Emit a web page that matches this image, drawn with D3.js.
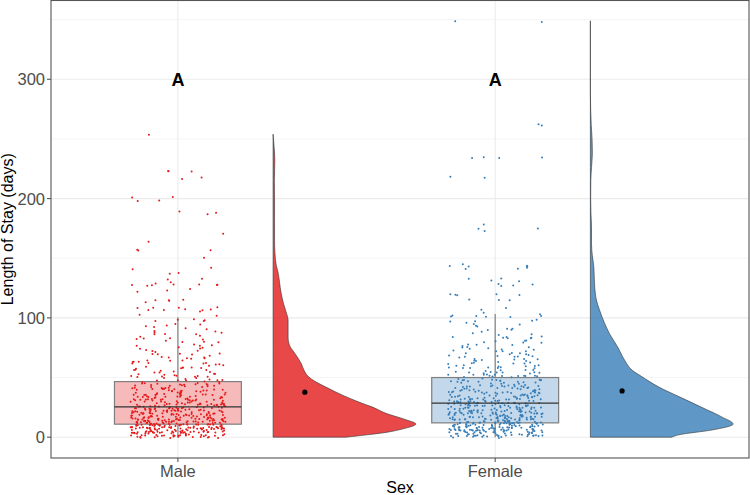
<!DOCTYPE html>
<html><head><meta charset="utf-8">
<script src="https://cdn.jsdelivr.net/npm/d3@7"></script>
<style>body{margin:0;background:#fff}svg{display:block;font-family:"Liberation Sans",Arial,sans-serif}</style>
</head><body><svg id="c" width="750" height="495"></svg>
<script>
// ---------- data ----------
const categories = ["Male", "Female"];
const colors = ["#E41A1C", "#377EB8"];
const yTicks = [0, 100, 200, 300];
const letters = ["A", "A"];
const means = [37.7, 38.8];
// box stats: [lowerWhisker, q1, median, q3, upperWhisker]
const maleBox = [0, 10.9, 25.4, 46.6, 100.6];
const femaleBox = [0, 12, 28.5, 50, 103.3];
// counts of stays per 5-day bin, 0-100 days
const binStarts = [0,5,10,15,20,25,30,35,40,45,50,55,60,65,70,75,80,85,90,95];
const maleBinCounts = [60,75,65,58,50,42,36,30,24,17,14,13,12,10,9,8,7,7,6,6];
const femaleBinCounts = [55,62,58,55,49,44,39,33,27,23,19,16,15,13,11,10,9,7,6,5];
// individual long stays (>100 days)
const maleLong = [254,224,223,224,217,217,202,199,202,199,188,188,188,170,165,157,157,157,151,142,142,138,138,133,133,128,128,128,127,127,129,128,128,129,122,123,123,114,116,116,114,114,109,109,109,108,108,107,107,106,106,106,103,103];
const femaleLong = [349,349,262,262,234,234,234,234,218,218,174,177,174,174,143,142,144,144,142,142,143,142,131,133,133,130,126,126,128,128,119,120,119,120,121,116,115,115,108,108,101,101,102,102,101,102,102,104];
// half-violin density profiles (value, relative width)
const maleViolinV = [0,2,4,7,11,15,20,25,29,35,42,47,51,56,62,70,76,80,84,91,98,105,112,121,130,138,145,155,165,180,200,215,232,245,254];
const maleViolinW = [0.51,0.66,0.79,0.91,1,0.92,0.79,0.70,0.61,0.49,0.37,0.29,0.245,0.217,0.196,0.154,0.119,0.108,0.105,0.105,0.105,0.091,0.073,0.056,0.045,0.035,0.021,0.013,0.010,0.010,0.010,0.009,0.012,0.006,0];
const femaleViolinV = [0,2,6,11,17,25,34,42,51,56,65,76,87,96,107,115,125,135,143,152,162,176,188,200,215,226,238,250,262,275,290,349];
const femaleViolinW = [0.57,0.62,0.85,1,0.92,0.78,0.62,0.48,0.357,0.294,0.238,0.189,0.133,0.098,0.063,0.042,0.031,0.027,0.024,0.014,0.008,0.008,0.004,0.002,0.003,0.008,0.014,0.012,0.006,0.002,0,0];

// ---------- layout ----------
const svg = d3.select("#c");
const P = {l: 51, r: 749, t: 0.5, b: 458};
const x = d3.scaleLinear().domain([0.6, 2.8]).range([P.l, P.r]);
const y = d3.scaleLinear().domain([-17.45, 366.45]).range([P.b, 0]);
const wScale = d3.scaleLinear().domain([0, 1]).range([0, 0.45]);

const boxes = [maleBox, femaleBox];
const binCounts = [maleBinCounts, femaleBinCounts];
const longs = [maleLong, femaleLong];
const violins = [[maleViolinV, maleViolinW], [femaleViolinV, femaleViolinW]];

// grid
const g = svg.append("g");
const minor = [50, 150, 250, 350];
g.selectAll(".mn").data(minor).join("line").attr("x1", P.l).attr("x2", P.r)
  .attr("y1", d => y(d)).attr("y2", d => y(d)).attr("stroke", "#F2F2F2").attr("stroke-width", 0.8);
g.selectAll(".mj").data(yTicks).join("line").attr("x1", P.l).attr("x2", P.r)
  .attr("y1", d => y(d)).attr("y2", d => y(d)).attr("stroke", "#EBEBEB").attr("stroke-width", 1.1);
g.selectAll(".vx").data([1, 2]).join("line").attr("y1", 0).attr("y2", P.b)
  .attr("x1", d => x(d)).attr("x2", d => x(d)).attr("stroke", "#EBEBEB").attr("stroke-width", 1.1);

// deterministic jitter offset in [-1, 1] (position only)
function jit(k, s) {
  const t = Math.sin(k * 78.233 + s * 12.9898) * 43758.5453;
  return (t - Math.floor(t)) * 2 - 1;
}
// build point values
function pointsFor(i) {
  const vals = [];
  binCounts[i].forEach((n, b) => {
    for (let k = 0; k < n; k++) vals.push(binStarts[b] + (k + 0.5) / n * 5);
  });
  longs[i].forEach(v => vals.push(v));
  return vals;
}

categories.forEach((cat, i) => {
  const cx = i + 1;
  const col = colors[i];
  const bs = boxes[i];
  // violin
  const [vv, ww] = violins[i];
  const vd = vv.map((v, k) => ({v, w: ww[k]}));
  const area = d3.area().curve(d3.curveMonotoneY)
    .y(d => y(d.v)).x0(x(cx + 0.3)).x1(d => x(cx + 0.3 + wScale(d.w)));
  svg.append("path").datum(vd).attr("d", area)
    .attr("fill", col).attr("fill-opacity", 0.8).attr("stroke", "#333").attr("stroke-width", 0.6);
  // box fill
  svg.append("rect").attr("x", x(cx - 0.2)).attr("width", x(cx + 0.2) - x(cx - 0.2))
    .attr("y", y(bs[3])).attr("height", y(bs[1]) - y(bs[3]))
    .attr("fill", col).attr("fill-opacity", 0.3).attr("stroke", "#7F7F7F").attr("stroke-width", 1.2);
  // whiskers
  svg.append("line").attr("x1", x(cx)).attr("x2", x(cx)).attr("y1", y(bs[3])).attr("y2", y(bs[4]))
    .attr("stroke", "#7F7F7F").attr("stroke-width", 1.2);
  svg.append("line").attr("x1", x(cx)).attr("x2", x(cx)).attr("y1", y(bs[1])).attr("y2", y(bs[0]))
    .attr("stroke", "#7F7F7F").attr("stroke-width", 1.2);
  // jittered points
  const vals = pointsFor(i);
  svg.append("g").selectAll("circle").data(vals).join("circle")
    .attr("cx", (d, k) => x(cx + jit(k, i + 1) * 0.15))
    .attr("cy", (d, k) => y(d + jit(k, i + 7) * 1.2))
    .attr("r", 1).attr("fill", col);
  // median
  svg.append("line").attr("x1", x(cx - 0.2)).attr("x2", x(cx + 0.2)).attr("y1", y(bs[2])).attr("y2", y(bs[2]))
    .attr("stroke", "#333").attr("stroke-width", 1.3);
  // mean dot
  svg.append("circle").attr("cx", x(cx + 0.4)).attr("cy", y(means[i])).attr("r", 2.6).attr("fill", "#000");
  // letter
  svg.append("text").attr("x", x(cx)).attr("y", y(300) + 6.5).attr("text-anchor", "middle")
    .attr("font-size", 18).attr("font-weight", "bold").attr("fill", "#000").text(letters[i]);
});

// panel border
svg.append("rect").attr("x", P.l).attr("y", P.t).attr("width", P.r - P.l).attr("height", P.b - P.t)
  .attr("fill", "none").attr("stroke", "#555").attr("stroke-width", 1.1);

// axes
const ya = svg.append("g");
ya.selectAll("line").data(yTicks).join("line").attr("x1", P.l - 4).attr("x2", P.l)
  .attr("y1", d => y(d)).attr("y2", d => y(d)).attr("stroke", "#555").attr("stroke-width", 1.1);
ya.selectAll("text").data(yTicks).join("text").attr("x", P.l - 6).attr("y", d => y(d) + 6)
  .attr("text-anchor", "end").attr("font-size", 16.5).attr("fill", "#4D4D4D").text(d => d);
const xa = svg.append("g");
xa.selectAll("line").data(categories).join("line").attr("x1", (d, i) => x(i + 1)).attr("x2", (d, i) => x(i + 1))
  .attr("y1", P.b).attr("y2", P.b + 4).attr("stroke", "#555").attr("stroke-width", 1.1);
xa.selectAll("text").data(categories).join("text").attr("x", (d, i) => x(i + 1)).attr("y", 477)
  .attr("text-anchor", "middle").attr("font-size", 16.5).attr("fill", "#4D4D4D").text(d => d);
svg.append("text").attr("x", (P.l + P.r) / 2).attr("y", 493).attr("text-anchor", "middle")
  .attr("font-size", 16).attr("fill", "#000").text("Sex");
svg.append("text").attr("transform", `translate(13,${(P.t + P.b) / 2}) rotate(-90)`).attr("text-anchor", "middle")
  .attr("font-size", 16).attr("fill", "#000").text("Length of Stay (days)");
</script></body></html>
